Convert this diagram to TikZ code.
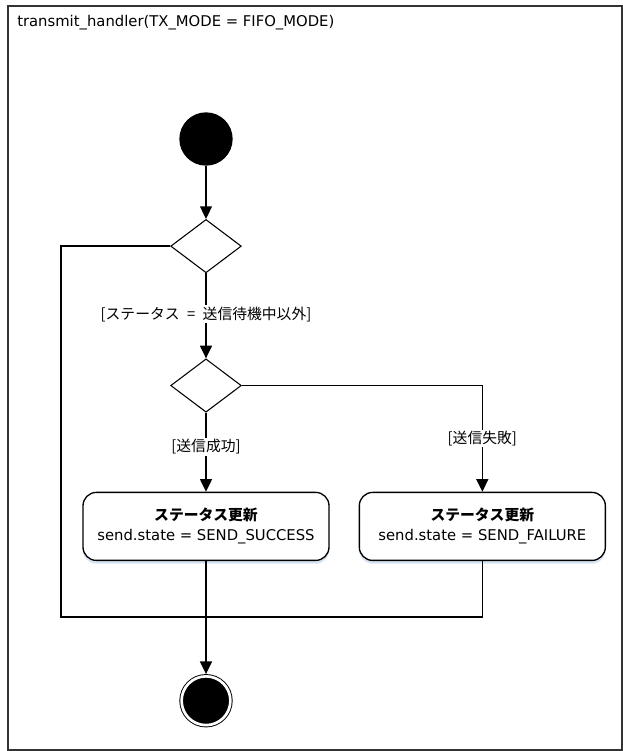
\documentclass[tikz,border=0pt]{standalone}
\usepackage{fontspec}
\setmainfont{DejaVu Sans}
\newfontfamily\jp{Noto Sans CJK JP}
\usetikzlibrary{shapes.geometric,arrows.meta,positioning,shadows}
\definecolor{shadowblue}{RGB}{205,220,238}
\newcommand{\diagfont}{\fontsize{11.1pt}{15pt}\selectfont}
\tikzset{%
  frame/.style={draw=black!80, line width=1.2pt},
  startnode/.style={circle, fill=black, minimum size=40pt, inner sep=0pt},
  decision/.style={diamond, draw, fill=white, line width=0.8pt, minimum width=53pt, minimum height=40pt, inner sep=0pt},
  action/.style={draw, fill=white, line width=1pt, rounded corners=10pt, minimum width=184.5pt, minimum height=51pt, align=center,
    drop shadow={shadow xshift=0pt, shadow yshift=-2.5pt, fill=shadowblue, opacity=.8}},
  stopnode/.style={circle, fill=black, draw, double=white, double distance=2pt, line width=0.7pt, minimum size=36.6pt, inner sep=0pt, outer sep=1.7pt},
  line/.style={draw, line width=1.1pt, -{Triangle[width=9pt,length=9.5pt]}},
  plain/.style={draw, line width=1.1pt},
  guard/.style={fill=white, inner sep=1pt, font=\jp\diagfont},
}

\begin{document}
\begin{tikzpicture}[x=0.75pt, y=-0.75pt, font=\diagfont]
  \useasboundingbox (0,0) rectangle (623,751);
  \draw [frame] (8,6) rectangle (622,750);
  \node (title) [anchor=base west, inner sep=0pt] at (17,26.5) {transmit\_handler(TX\_MODE = FIFO\_MODE)};

  \node (start) [startnode] at (206,139) {};
  \node (d1) [decision, below=39.75pt of start] {};
  \node (d2) [decision, below=63.75pt of d1] {};
  \node (ok) [action, below=59.25pt of d2] {{\jp\bfseries ステータス更新}\\ send.state = SEND\_SUCCESS};
  \node (ng) [action, right=21.75pt of ok] {{\jp\bfseries ステータス更新}\\ send.state = SEND\_FAILURE};
  \node (stop) [stopnode, below=84.75pt of ok] {};
  \coordinate (lp) at (61,617);

  \path [line] (start) -- (d1);
  \path [line] (d1) -- node [guard, pos=.48] {[ステータス\hspace{.5em}=\hspace{.5em}送信待機中以外]} (d2);
  \path [line] (d2) -- node [guard, pos=.43] {[送信成功]} (ok);
  \path [line] (d2) -| node [guard, pos=.75] {[送信失敗]} (ng);
  % waiting state skips straight to the end
  \path [plain] (d1) -| (lp) -| (ng);
  \path [line] (ok) -- (stop);
\end{tikzpicture}
\end{document}
